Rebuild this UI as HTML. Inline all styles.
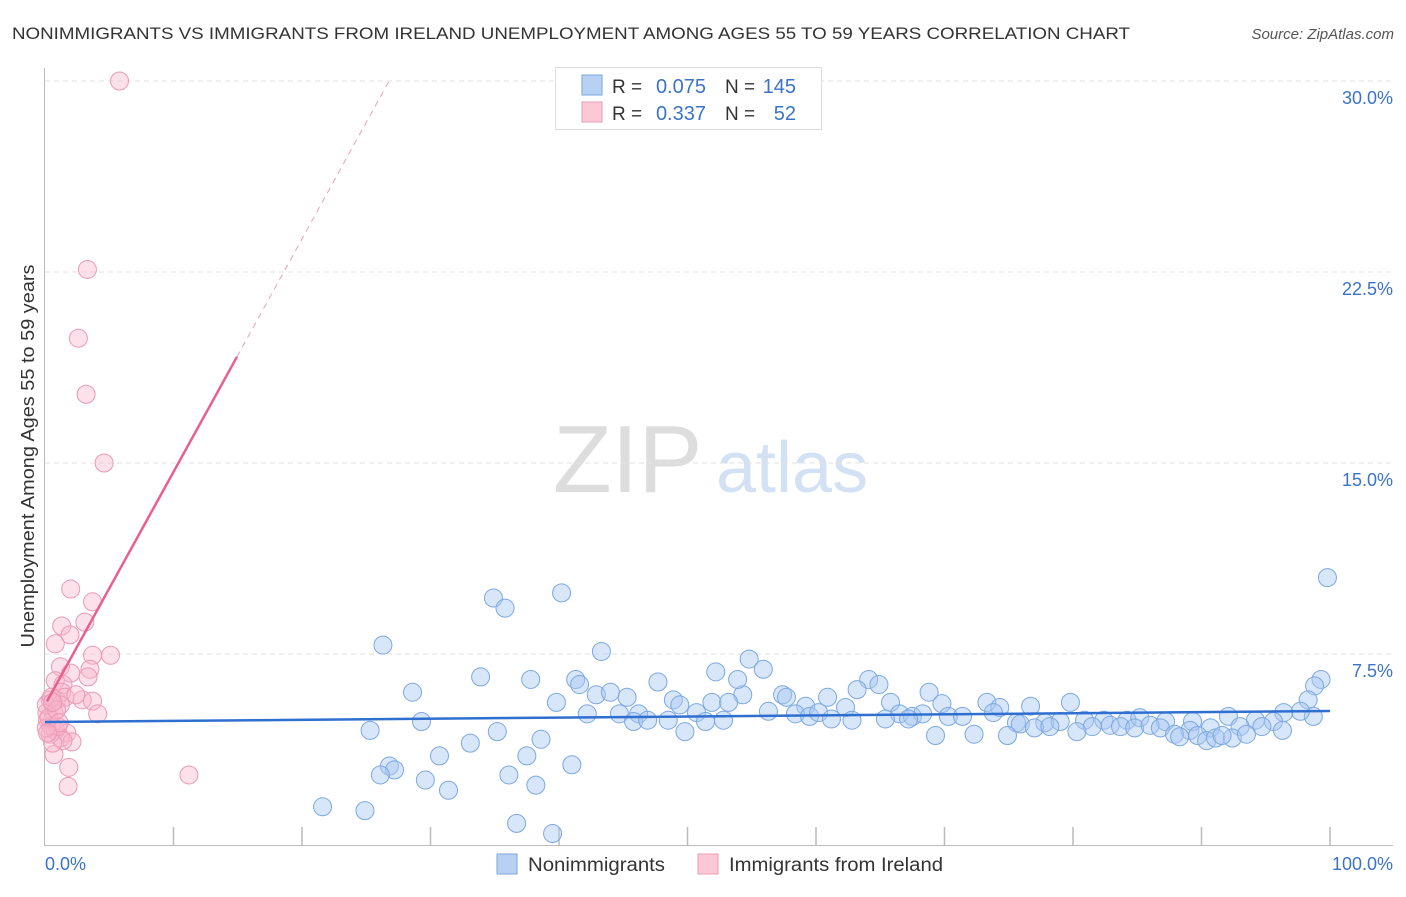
<!DOCTYPE html>
<html><head><meta charset="utf-8"><style>
body{margin:0;background:#fff;font-family:"Liberation Sans",sans-serif}
svg text{font-family:"Liberation Sans",sans-serif}
</style></head><body>
<svg id="c" width="1406" height="892" xmlns="http://www.w3.org/2000/svg">
<text x="12" y="39" font-size="17" fill="#333" textLength="1118" lengthAdjust="spacingAndGlyphs">NONIMMIGRANTS VS IMMIGRANTS FROM IRELAND UNEMPLOYMENT AMONG AGES 55 TO 59 YEARS CORRELATION CHART</text>
<text x="1394" y="39" font-size="15" fill="#555" font-style="italic" text-anchor="end">Source: ZipAtlas.com</text>
<g>
<text x="553" y="492" font-size="96" fill="#ddd" font-family="Liberation Serif,serif">ZIP</text>
<text x="716" y="492" font-size="72" fill="#d3e1f4">atlas</text>
</g>
<g id="grid"></g>
<g id="axes"></g>
<g id="blue"></g>
<g id="pink"></g>
<g id="lines"></g>
<text x="34" y="456" font-size="18" fill="#333" text-anchor="middle" textLength="383" lengthAdjust="spacingAndGlyphs" transform="rotate(-90 34 456)">Unemployment Among Ages 55 to 59 years</text>
<text x="45" y="870" font-size="18" fill="#3b73c8">0.0%</text>
<text x="1393" y="870" font-size="18" fill="#3b73c8" text-anchor="end">100.0%</text>
<g>
<rect x="555.5" y="67.5" width="266" height="62" fill="#fff" stroke="#ddd"/>
<rect x="582" y="75" width="20" height="20" fill="#b8d1f3" stroke="#7aa7e0"/>
<rect x="582" y="102" width="20" height="20" fill="#fcc8d6" stroke="#ec9bb5"/>
<text x="612" y="93" font-size="19" fill="#333">R =</text>
<text x="706" y="93" font-size="20" fill="#3b73c8" text-anchor="end">0.075</text>
<text x="725" y="93" font-size="19" fill="#333">N =</text>
<text x="796" y="93" font-size="20" fill="#3b73c8" text-anchor="end">145</text>
<text x="612" y="120" font-size="19" fill="#333">R =</text>
<text x="706" y="120" font-size="20" fill="#3b73c8" text-anchor="end">0.337</text>
<text x="725" y="120" font-size="19" fill="#333">N =</text>
<text x="796" y="120" font-size="20" fill="#3b73c8" text-anchor="end">52</text>
</g>
<g>
<rect x="497" y="854" width="20" height="20" fill="#b8d1f3" stroke="#7aa7e0"/>
<text x="528" y="871" font-size="19" fill="#333" textLength="137" lengthAdjust="spacingAndGlyphs">Nonimmigrants</text></g>
<g>
<rect x="698" y="854" width="20" height="20" fill="#fcc8d6" stroke="#ec9bb5"/>
<text x="729" y="871" font-size="19" fill="#333" textLength="214" lengthAdjust="spacingAndGlyphs">Immigrants from Ireland</text></g>
</svg>
<script>
const yTicks=[7.5,15,22.5,30];
const yTickLabels=["7.5%","15.0%","22.5%","30.0%"];
const xTicks=[10,20,30,40,50,60,70,80,90,100];
const blueX=[99.8,34.9,35.8,40.2,26.3,43.3,54.8,52.2,55.9,99.3,98.8,33.9,37.8,41.3,41.6,47.7,64.1,64.9,28.6,42.9,44,45.3,54.3,53.9,57.4,57.7,60.9,63.2,68.8,98.3,39.8,48.9,49.4,51.9,53.2,59.2,62.3,65.8,69.8,73.3,74.3,76.7,79.8,98.7,97.7,42.2,44.7,46.2,50.7,56.3,58.4,59.5,60.2,66.5,67.5,68.3,70.3,71.4,73.8,92.1,96.4,29.3,45.8,46.9,48.5,51.4,52.8,61.2,62.8,65.4,67.2,75.6,77.8,79,80.9,82.4,84.2,85.2,87.2,89.3,94.2,95.6,75.9,77,78.2,81.5,82.9,83.7,84.8,86,86.8,90.7,93,94.7,96.3,89.1,25.3,35.2,49.8,80.3,87.9,88.3,89.7,90.4,91.1,92.4,93.5,91.6,69.3,72.3,74.9,38.6,33.1,30.7,37.5,26.8,27.2,41,26.1,36.1,29.6,31.4,38.2,21.6,24.9,36.7,39.5];
const blueY=[10.5,9.7,9.3,9.9,7.85,7.6,7.3,6.8,6.9,6.5,6.25,6.6,6.5,6.5,6.3,6.4,6.5,6.3,6.0,5.9,6,5.8,5.9,6.5,5.9,5.8,5.8,6.1,6.0,5.7,5.6,5.7,5.5,5.6,5.6,5.45,5.4,5.6,5.55,5.6,5.4,5.45,5.6,5.05,5.25,5.15,5.15,5.15,5.2,5.25,5.15,5.05,5.2,5.15,5.05,5.15,5.05,5.05,5.2,5.05,5.2,4.85,4.85,4.9,4.9,4.85,4.9,4.95,4.9,4.95,4.95,4.8,4.8,4.85,4.9,4.9,4.9,5,4.85,4.85,4.9,4.85,4.75,4.6,4.65,4.65,4.7,4.65,4.6,4.7,4.6,4.6,4.65,4.65,4.5,4.5,4.5,4.45,4.45,4.45,4.35,4.25,4.3,4.1,4.2,4.2,4.35,4.3,4.3,4.35,4.3,4.15,4.0,3.5,3.5,3.1,2.95,3.15,2.75,2.75,2.55,2.15,2.35,1.5,1.35,0.85,0.45];
const pinkX=[5.8,3.3,2.6,3.2,4.6,2.0,3.7,3.1,1.3,1.95,5.1,3.7,0.8,1.2,2.0,3.5,3.35,0.8,1.4,0.9,1.3,1.55,2.9,3.7,0.4,0.7,4.1,0.2,0.45,0.8,1.7,1.2,2.1,1.4,0.7,1.85,1.8,11.2,0.15,0.4,1,0.1,1.2,0.6,0.1,0.3,0.5,0.9,1.1,0.2,0.6,2.4];
const pinkY=[30,22.6,19.9,17.7,15.0,10.05,9.55,8.75,8.6,8.25,7.45,7.45,7.9,7.0,6.75,6.9,6.6,6.45,6.3,5.7,6.0,5.8,5.7,5.65,5.7,5.2,5.15,4.9,4.65,4.5,4.4,4.2,4.05,4.1,3.55,3.05,2.3,2.75,5.2,4.35,4.65,5.5,5.5,4.0,4.6,5.0,5.8,5.3,4.8,4.4,5.6,5.9];
const blueLine=[4.83,5.26];
const pinkLine=[5.5,0.915];
const X=v=>45+v*12.85, Y=v=>845-v*25.467;
const NS="http://www.w3.org/2000/svg";
function mk(p,t,a){const e=document.createElementNS(NS,t);for(const k in a)e.setAttribute(k,a[k]);p.appendChild(e);return e;}
const grid=document.getElementById('grid'),axes=document.getElementById('axes');
mk(grid,'line',{x1:45,x2:1393,y1:Y(30),y2:Y(30),stroke:'#ddd','stroke-dasharray':'5,4'});
yTicks.forEach((t,i)=>{
 const l=mk(grid,'line',{x1:45,x2:1393,y1:Y(t),y2:Y(t),stroke:'#e2e2e2','stroke-dasharray':'5,4'});
 
 
 const tx=mk(grid,'text',{x:1393,y:Y(t)+23,'font-size':18,fill:'#3b73c8','text-anchor':'end'});
 tx.textContent=yTickLabels[i];
 
 
});
mk(axes,'line',{x1:44.5,x2:44.5,y1:68,y2:845,stroke:'#bbb'});
mk(axes,'line',{x1:44,x2:1393,y1:845.5,y2:845.5,stroke:'#bbb'});
xTicks.forEach(t=>{const l=mk(axes,'line',{x1:X(t),x2:X(t),y1:827,y2:845,stroke:'#bbb','stroke-width':1.5});
 
 });
const bg=document.getElementById('blue');
blueX.forEach((x,i)=>{const c=mk(bg,'circle',{cx:X(x),cy:Y(blueY[i]),r:9,fill:'rgba(168,200,242,0.45)',stroke:'#7ba8e2','stroke-width':1});
 
 });
const pg=document.getElementById('pink');
pinkX.forEach((x,i)=>{const c=mk(pg,'circle',{cx:X(x),cy:Y(pinkY[i]),r:9,fill:'rgba(248,180,202,0.4)',stroke:'#eb98b5','stroke-width':1});
 
 });
const lg=document.getElementById('lines');
const bl=mk(lg,'line',{x1:X(0),y1:Y(blueLine[0]),x2:X(100),y2:Y(blueLine[1]),stroke:'#2f6fd0','stroke-width':2.5});


const xEnd=14.94, xDash=(30-pinkLine[0])/pinkLine[1];
const pl=mk(lg,'line',{x1:X(0.15),y1:Y(pinkLine[0]+pinkLine[1]*0.15),x2:X(xEnd),y2:Y(pinkLine[0]+pinkLine[1]*xEnd),stroke:'#e8608e','stroke-width':2.5});


const pd=mk(lg,'line',{x1:X(xEnd),y1:Y(pinkLine[0]+pinkLine[1]*xEnd),x2:X(xDash),y2:Y(30),stroke:'#eaa0b8','stroke-width':1,'stroke-dasharray':'6,5'});


</script>
</body></html>
